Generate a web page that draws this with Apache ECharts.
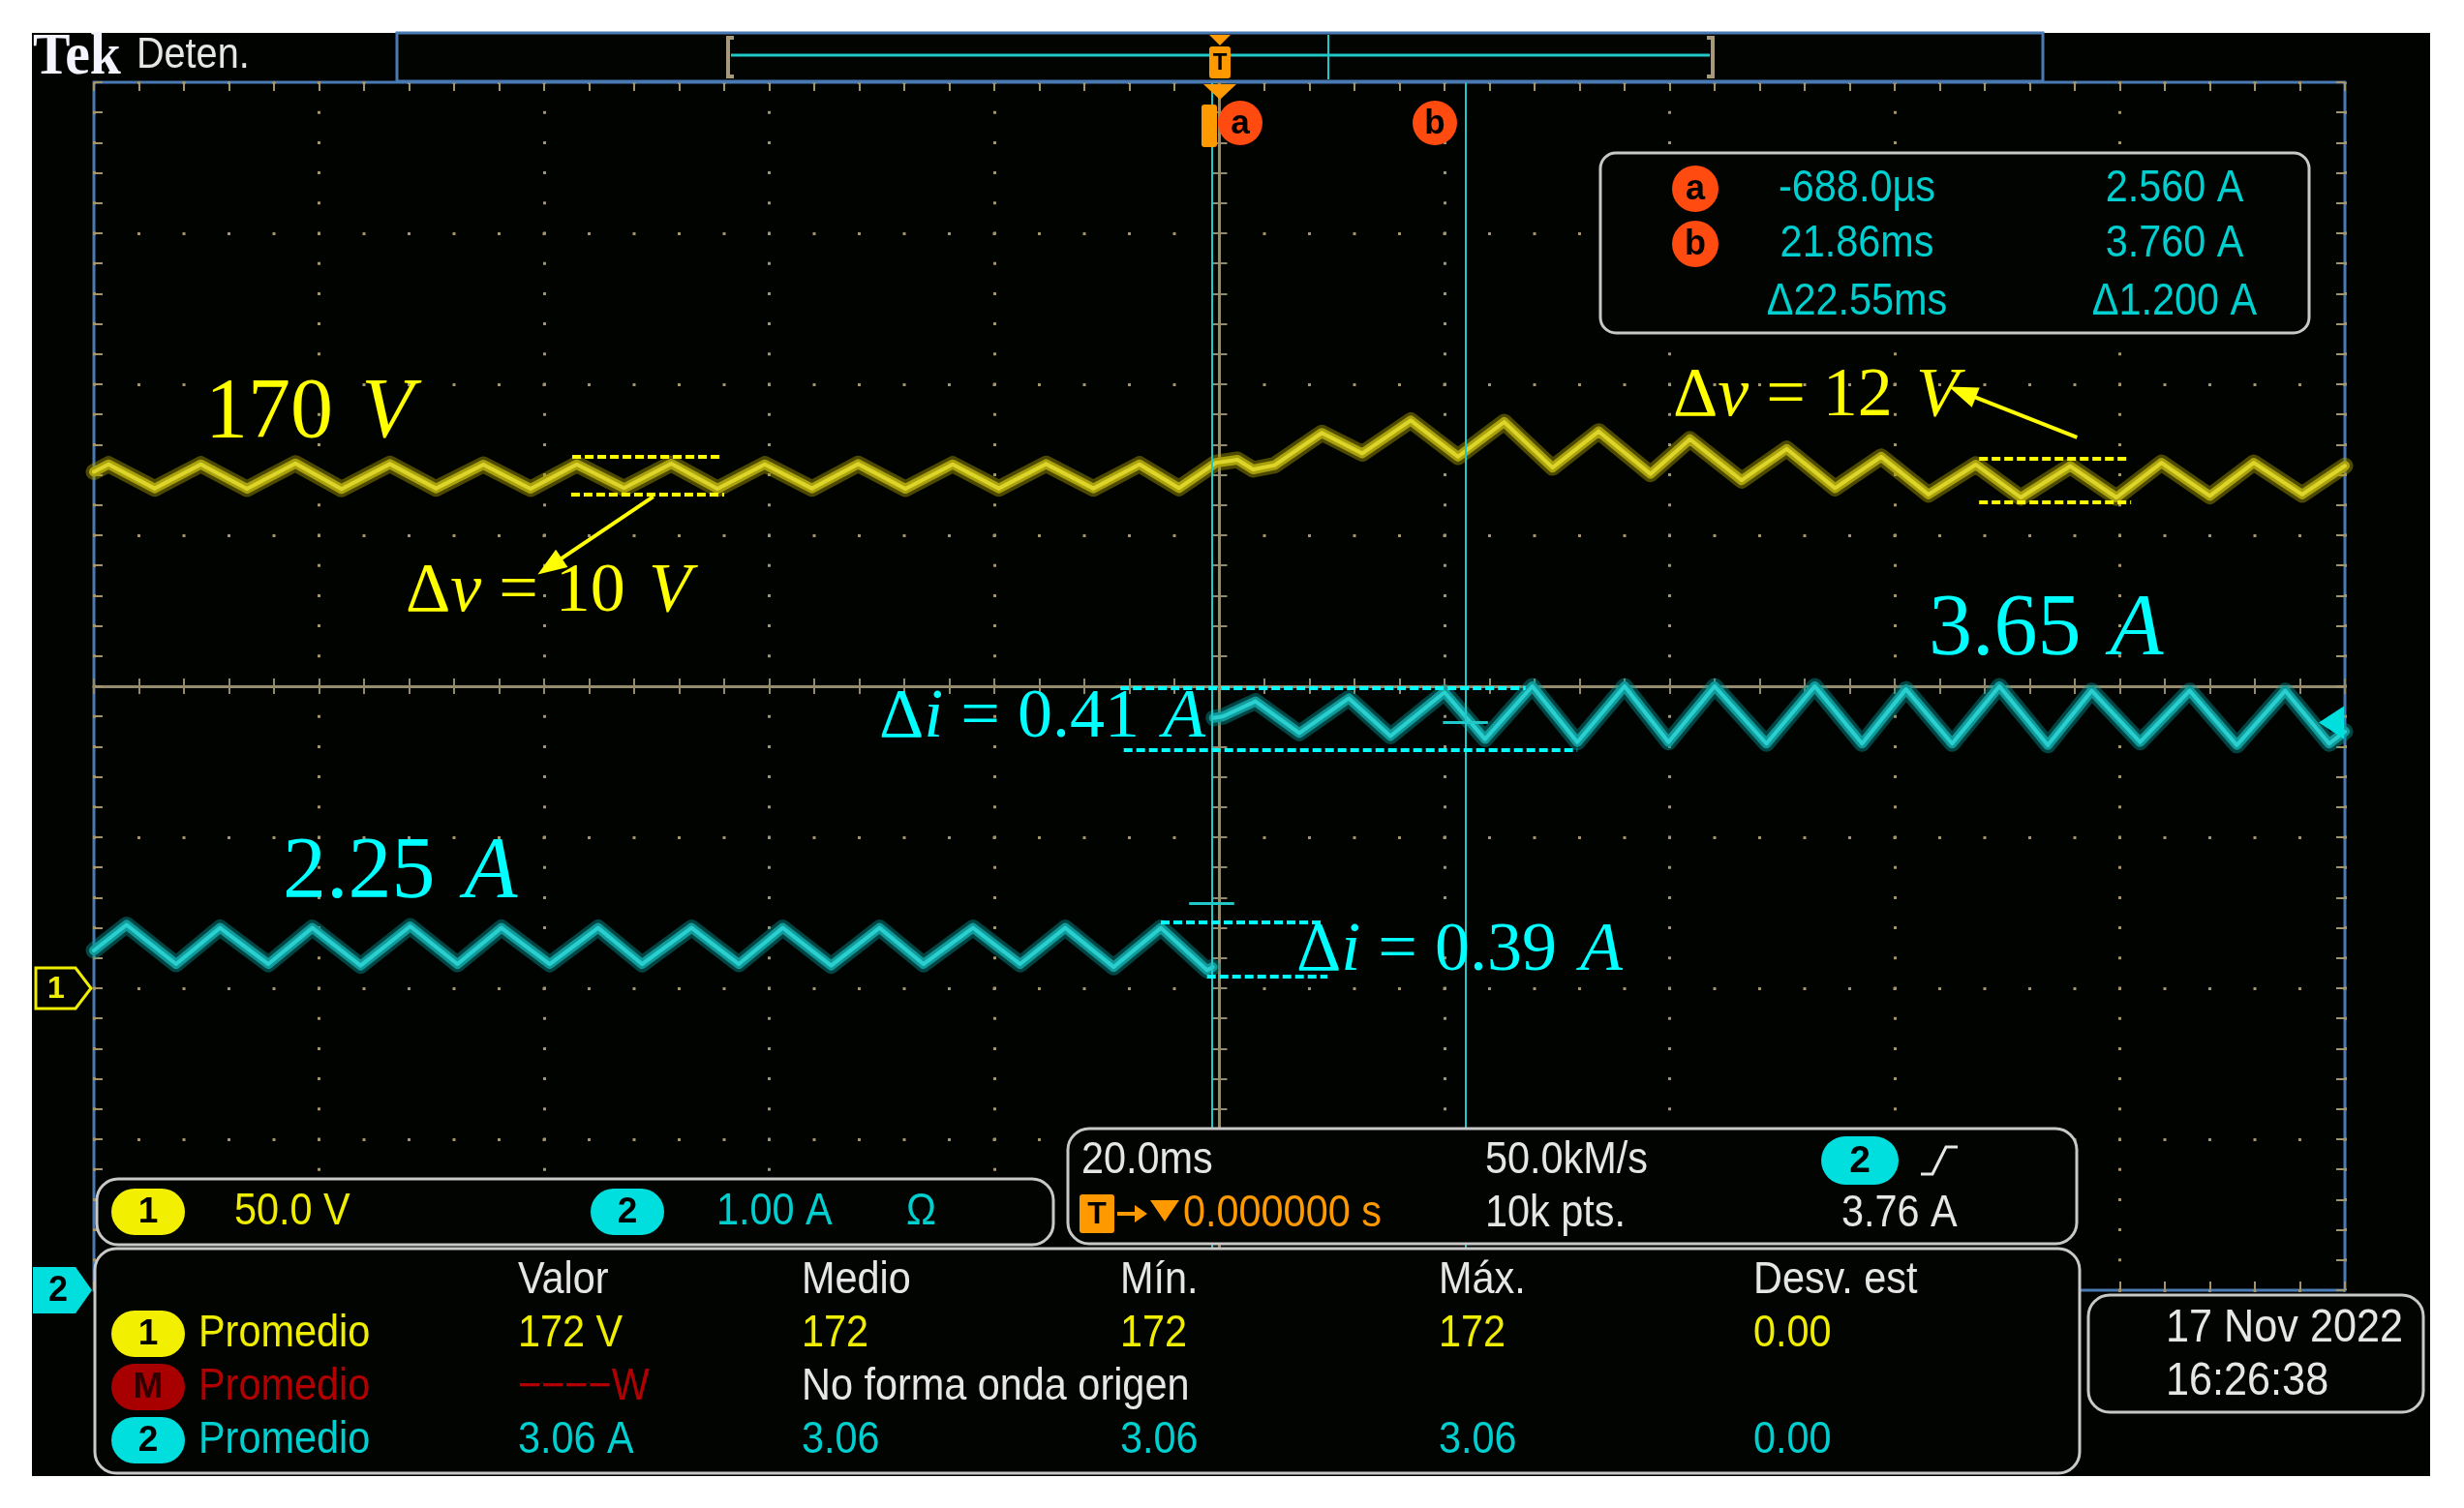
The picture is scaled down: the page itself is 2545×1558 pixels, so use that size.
<!DOCTYPE html>
<html>
<head>
<meta charset="utf-8">
<script src="https://cdn.jsdelivr.net/npm/echarts@6/dist/echarts.min.js"></script>
<style>
html,body{margin:0;padding:0;background:#ffffff;overflow:hidden;}
#bg{position:absolute;left:33px;top:34px;width:2477px;height:1491px;background:#010301;}
#chart{position:absolute;left:0;top:0;width:2545px;height:1558px;}
</style>
</head>
<body>
<div id="bg"></div>
<div id="chart"></div>
<script>
// ---------------- scope settings ----------------
const timePerDiv = 20;   // ms / div
const voltsPerDiv = 50;  // CH1  V / div
const ampsPerDiv = 1;    // CH2  A / div

// ---------------- CH1 (yellow, volts) ----------------
const ch1Time = [-100.0, -98.7, -94.6, -90.5, -86.4, -82.1, -78.0, -73.7, -69.6, -65.4, -61.2, -57.1, -52.9, -48.7, -44.6, -40.4, -36.2, -32.1, -27.9, -23.7, -19.6, -15.4, -11.2, -7.1, -3.6, -0.3, 1.6, 3.0, 4.9, 9.1, 12.7, 17.0, 21.2, 25.3, 29.6, 33.7, 38.3, 41.8, 46.4, 50.4, 54.7, 58.8, 63.0, 67.2, 71.2, 75.6, 79.7, 83.7, 88.0, 91.9, 96.2, 100.0];
const ch1Volts = [171.0, 173.5, 165.5, 173.5, 165.4, 173.8, 165.3, 173.6, 165.5, 173.4, 165.4, 173.5, 165.6, 173.7, 165.4, 173.5, 165.5, 173.6, 165.4, 173.5, 165.5, 173.6, 165.5, 173.5, 165.6, 174.0, 175.0, 171.8, 173.2, 183.9, 177.1, 188.0, 176.0, 187.5, 172.4, 184.4, 170.3, 181.8, 168.2, 178.6, 165.6, 176.0, 163.5, 173.4, 162.5, 172.9, 162.5, 174.0, 163.0, 174.0, 163.5, 173.0];

// ---------------- CH2 (cyan, amps) — null marks the (invisible) step edge ----------------
const ch2Time = [-100.0, -97.1, -92.7, -88.8, -84.5, -80.6, -76.3, -71.9, -67.7, -63.8, -59.5, -55.2, -51.3, -46.9, -42.7, -38.8, -34.5, -30.2, -26.3, -21.9, -17.7, -13.7, -9.4, -5.2, -1.1, -0.6, -0.55, -0.5, 0.3, 3.2, 7.1, 11.5, 15.2, 20.0, 23.6, 27.8, 31.8, 36.0, 39.9, 44.0, 48.6, 52.9, 57.1, 61.0, 65.1, 69.3, 73.6, 77.5, 81.8, 86.2, 90.4, 94.7, 98.6, 100.0];
const ch2Amps = [2.25, 2.42, 2.16, 2.40, 2.16, 2.40, 2.15, 2.41, 2.16, 2.40, 2.16, 2.40, 2.16, 2.40, 2.16, 2.40, 2.15, 2.40, 2.16, 2.40, 2.16, 2.40, 2.14, 2.40, 2.12, 2.14, null, 3.79, 3.80, 3.90, 3.69, 3.92, 3.67, 3.96, 3.65, 4.00, 3.63, 4.00, 3.63, 4.00, 3.62, 4.00, 3.62, 3.98, 3.62, 4.00, 3.61, 3.97, 3.63, 3.97, 3.61, 3.97, 3.62, 3.70];

// ---------------- cursors / trigger ----------------
const cursorTimes = [-0.688, 21.86];
const cursorAmps = [2.56, 3.76];
const triggerLevel = 3.76;

// ---------------- annotation guides (data units) ----------------
const yelGuideT = [[-57.5, -44.3], [-57.6, -44.0], [67.5, 80.6], [67.5, 81.0]];
const yelGuideV = [176.0, 163.5, 175.3, 160.9];
const yelArrowT = [[-50.3, -59.5], [76.2, 66.0]];
const yelArrowV = [[162.8, 139.7], [182.4, 197.4]];
const cyaGuideT = [[-8.8, 27.2], [-8.5, 31.8], [-5.2, 9.1], [-1.1, 9.6]];
const cyaGuideA = [3.99, 3.58, 2.44, 2.08];

// ---------------- texts ----------------
const readoutTimes = ['-688.0µs', '21.86ms', 'Δ22.55ms'];
const readoutAmps = ['2.560 A', '3.760 A', 'Δ1.200 A'];
const measHeaders = ['Valor', 'Medio', 'Mín.', 'Máx.', 'Desv. est'];
const measRow1 = ['172 V', '172', '172', '172', '0.00'];
const measRow3 = ['3.06 A', '3.06', '3.06', '3.06', '0.00'];

// ---------------- styles ----------------
const UI = "'Liberation Sans','DejaVu Sans',sans-serif";
const MATH = "'Liberation Serif','DejaVu Serif',serif";
const BLUE = '#4a7ab4', GRAT = '#a4946a', XH = '#948a6c', TAN = '#a8997a';
const YEL = '#f0ee00', CYA = '#00cfcf', WHT = '#e6e6e6', ORG = '#ff9900', CUR = '#ff4a10', DRED = '#b00000';
const AYEL = '#ffff00', ACYA = '#00ffff', PANEL = '#c8c8c8';

const chart = echarts.init(document.getElementById('chart'));

function T(s, x, y, size, fill, align, opts) {
  opts = opts || {};
  return {type: 'text', z: 110, x: x, y: y, scaleX: opts.sx || 0.9,
    style: {text: s, x: 0, y: 0, font: (opts.weight || 'normal') + ' ' + size + 'px ' + (opts.family || UI),
      fill: fill, align: align || 'left', verticalAlign: 'middle'}};
}
function panel(x, y, w, h, r) {
  return {type: 'rect', z: 100, shape: {x: x, y: y, width: w, height: h, r: r}, style: {fill: '#020402', stroke: PANEL, lineWidth: 3}};
}
function badge(cx, cy, w, h, fill, label, lc) {
  return [
    {type: 'rect', z: 110, shape: {x: cx - w / 2, y: cy - h / 2, width: w, height: h, r: h / 2}, style: {fill: fill}},
    {type: 'text', z: 111, x: cx, y: cy + 1, style: {text: label, x: 0, y: 0, font: 'bold ' + Math.round(h * 0.78) + 'px ' + UI, fill: lc, align: 'center', verticalAlign: 'middle'}}
  ];
}
function circ(cx, cy, r, label) {
  return [
    {type: 'circle', z: 110, shape: {cx: cx, cy: cy, r: r}, style: {fill: CUR}},
    {type: 'text', z: 111, x: cx, y: cy + 1, style: {text: label, x: 0, y: 0, font: 'bold ' + Math.round(r * 1.5) + 'px ' + UI, fill: '#000', align: 'center', verticalAlign: 'middle'}}
  ];
}
function mathText(parts, x, y, size, fill) {
  return {type: 'text', z: 90, x: x, y: y,
    style: {text: parts.map(p => '{' + p[0] + '|' + p[1] + '}').join(''), x: 0, y: 0, align: 'left', verticalAlign: 'middle',
      rich: {u: {font: size + 'px ' + MATH, fill: fill}, i: {font: 'italic ' + size + 'px ' + MATH, fill: fill}}}};
}

const G = [];
// header
G.push(T('Tek', 34, 60, 62, '#f4f4ff', 'left', {family: "'Liberation Serif',serif", weight: 'bold', sx: 0.93}));
G.push(T('Deten.', 141, 58, 44, WHT));
// record bar
G.push({type: 'rect', z: 100, shape: {x: 410, y: 34, width: 1700, height: 50}, style: {fill: '#020402', stroke: BLUE, lineWidth: 3}});
G.push({type: 'polyline', z: 101, shape: {points: [[758, 39], [752, 39], [752, 79], [758, 79]]}, style: {stroke: TAN, lineWidth: 4, fill: null}});
G.push({type: 'polyline', z: 101, shape: {points: [[1763, 39], [1769, 39], [1769, 79], [1763, 79]]}, style: {stroke: TAN, lineWidth: 4, fill: null}});
G.push({type: 'line', z: 101, shape: {x1: 755, y1: 57, x2: 1766, y2: 57}, style: {stroke: '#20c8c8', lineWidth: 3}});
G.push({type: 'line', z: 101, shape: {x1: 1372, y1: 36, x2: 1372, y2: 82}, style: {stroke: '#20c8c8', lineWidth: 2}});
G.push({type: 'polygon', z: 102, shape: {points: [[1249, 36], [1271, 36], [1260, 47]]}, style: {fill: ORG}});
G.push({type: 'rect', z: 102, shape: {x: 1249, y: 48, width: 22, height: 33, r: 3}, style: {fill: ORG}});
G.push({type: 'text', z: 103, x: 1260, y: 65, style: {text: 'T', x: 0, y: 0, font: 'bold 24px ' + UI, fill: '#000', align: 'center', verticalAlign: 'middle'}});
G.push({type: 'polygon', z: 102, shape: {points: [[1243, 87], [1277, 87], [1260, 103]]}, style: {fill: ORG}});
// cursor tags
G.push({type: 'rect', z: 102, shape: {x: 1241, y: 108, width: 16, height: 44, r: 3}, style: {fill: ORG}});
G.push(...circ(1281, 127, 23, 'a'));
G.push(...circ(1482, 127, 23, 'b'));
// cursor readout
G.push(panel(1653, 158, 732, 186, 16));
G.push(...circ(1751, 195, 24, 'a'));
G.push(...circ(1751, 252, 24, 'b'));
[195, 252, 312].forEach((y, i) => {
  G.push(T(readoutTimes[i], 1918, y, 46, CYA, 'center'));
  G.push(T(readoutAmps[i], 2246, y, 46, CYA, 'center'));
});
// math annotations
G.push(mathText([['u', '170\u2004'], ['i', 'V']], 212, 428, 88, AYEL));
G.push(mathText([['u', 'Δ'], ['i', 'v'], ['u', '\u2005=\u200510\u2004'], ['i', 'V']], 419, 612, 72, AYEL));
G.push(mathText([['u', 'Δ'], ['i', 'v'], ['u', '\u2005=\u200512\u2004'], ['i', 'V']], 1728, 410, 72, AYEL));
G.push(mathText([['u', '3.65\u2004'], ['i', 'A']], 1992, 652, 90, ACYA));
G.push(mathText([['u', '2.25\u2004'], ['i', 'A']], 292, 903, 90, ACYA));
G.push(mathText([['u', 'Δ'], ['i', 'i'], ['u', '\u2005=\u20050.41\u2004'], ['i', 'A']], 908, 742, 72, ACYA));
G.push(mathText([['u', 'Δ'], ['i', 'i'], ['u', '\u2005=\u20050.39\u2004'], ['i', 'A']], 1339, 983, 72, ACYA));
// ground markers
G.push({type: 'polygon', z: 100, shape: {points: [[37, 1000], [78, 1000], [94, 1021], [78, 1042], [37, 1042]]}, style: {fill: '#020402', stroke: YEL, lineWidth: 3}});
G.push({type: 'text', z: 101, x: 58, y: 1022, style: {text: '1', x: 0, y: 0, font: 'bold 32px ' + UI, fill: YEL, align: 'center', verticalAlign: 'middle'}});
G.push({type: 'polygon', z: 100, shape: {points: [[34, 1309], [78, 1309], [95, 1333], [78, 1357], [34, 1357]]}, style: {fill: '#00dede'}});
G.push({type: 'text', z: 101, x: 60, y: 1334, style: {text: '2', x: 0, y: 0, font: 'bold 36px ' + UI, fill: '#000', align: 'center', verticalAlign: 'middle'}});
// channel panel
G.push(panel(100, 1218, 988, 68, 22));
G.push(...badge(153, 1252, 76, 48, '#f2f000', '1', '#000'));
G.push(T('50.0 V', 242, 1252, 46, YEL));
G.push(...badge(648, 1252, 76, 48, '#00dede', '2', '#000'));
G.push(T('1.00 A', 740, 1252, 46, CYA));
G.push(T('Ω', 936, 1252, 46, CYA));
// timebase panel
G.push(panel(1103, 1166, 1042, 119, 22));
G.push(T('20.0ms', 1117, 1199, 46, WHT));
G.push(T('50.0kM/s', 1534, 1199, 46, WHT));
G.push(...badge(1921, 1199, 80, 50, '#00dede', '2', '#000'));
G.push({type: 'polyline', z: 110, shape: {points: [[1984, 1213], [1996, 1213], [2010, 1185], [2022, 1185]]}, style: {stroke: WHT, lineWidth: 3, fill: null}});
G.push({type: 'rect', z: 110, shape: {x: 1115, y: 1234, width: 36, height: 40, r: 3}, style: {fill: ORG}});
G.push({type: 'text', z: 111, x: 1133, y: 1255, style: {text: 'T', x: 0, y: 0, font: 'bold 32px ' + UI, fill: '#000', align: 'center', verticalAlign: 'middle'}});
G.push({type: 'line', z: 110, shape: {x1: 1154, y1: 1254, x2: 1178, y2: 1254}, style: {stroke: ORG, lineWidth: 4}});
G.push({type: 'polygon', z: 110, shape: {points: [[1172, 1245], [1185, 1254], [1172, 1263]]}, style: {fill: ORG}});
G.push({type: 'polygon', z: 110, shape: {points: [[1188, 1240], [1218, 1240], [1203, 1262]]}, style: {fill: ORG}});
G.push(T('0.000000 s', 1222, 1254, 46, ORG));
G.push(T('10k pts.', 1534, 1254, 46, WHT));
G.push(T('3.76 A', 1902, 1254, 46, WHT));
// measurement panel
G.push(panel(98, 1290, 2050, 232, 22));
const colX = [535, 828, 1157, 1486, 1811];
measHeaders.forEach((s, i) => G.push(T(s, colX[i], 1323, 46, WHT)));
G.push(...badge(153, 1378, 76, 48, '#f2f000', '1', '#000'));
G.push(T('Promedio', 205, 1378, 46, YEL));
measRow1.forEach((s, i) => G.push(T(s, colX[i], 1378, 46, YEL)));
G.push(...badge(153, 1433, 76, 48, '#a80000', 'M', '#300000'));
G.push(T('Promedio', 205, 1433, 46, DRED));
G.push(T('−−−−W', 535, 1433, 46, DRED));
G.push(T('No forma onda origen', 828, 1433, 46, WHT));
G.push(...badge(153, 1488, 76, 48, '#00dede', '2', '#000'));
G.push(T('Promedio', 205, 1488, 46, CYA));
measRow3.forEach((s, i) => G.push(T(s, colX[i], 1488, 46, CYA)));
// date panel
G.push(panel(2157, 1338, 346, 121, 22));
G.push(T('17 Nov 2022', 2237, 1373, 48, WHT));
G.push(T('16:26:38', 2237, 1428, 48, WHT));

// ---------------- axes ----------------
const tickStyle = {color: GRAT, width: 2};
const xRange = {type: 'value', min: -5 * timePerDiv, max: 5 * timePerDiv, interval: timePerDiv, axisLabel: {show: false}};
const yRange = {type: 'value', min: -4, max: 4, interval: 1, axisLabel: {show: false}};
const xAxis = [
  Object.assign({}, xRange, {position: 'bottom', axisLine: {show: false, onZero: false},
    axisTick: {show: true, inside: true, length: 9, lineStyle: tickStyle},
    minorTick: {show: true, splitNumber: 5, length: 9, lineStyle: tickStyle},
    splitLine: {show: true, lineStyle: {color: GRAT, width: 3, type: [3, 28.2], dashOffset: 1.5}}}),
  Object.assign({}, xRange, {position: 'top', axisLine: {show: false, onZero: false},
    axisTick: {show: true, inside: true, length: 9, lineStyle: tickStyle},
    minorTick: {show: true, splitNumber: 5, length: 9, lineStyle: tickStyle}, splitLine: {show: false}}),
  Object.assign({}, xRange, {position: 'bottom', axisLine: {show: true, onZero: true, onZeroAxisIndex: 0, lineStyle: {color: XH, width: 3}},
    axisTick: {show: true, inside: false, length: 8, lineStyle: {color: XH, width: 2}},
    minorTick: {show: true, splitNumber: 5, length: 8, lineStyle: {color: XH, width: 2}}, splitLine: {show: false}}),
  Object.assign({}, xRange, {position: 'top', axisLine: {show: true, onZero: true, onZeroAxisIndex: 0, lineStyle: {color: XH, width: 3}},
    axisTick: {show: true, inside: false, length: 8, lineStyle: {color: XH, width: 2}},
    minorTick: {show: true, splitNumber: 5, length: 8, lineStyle: {color: XH, width: 2}}, splitLine: {show: false}})
];
const yAxis = [
  Object.assign({}, yRange, {position: 'left', axisLine: {show: false, onZero: false},
    axisTick: {show: true, inside: true, length: 9, lineStyle: tickStyle},
    minorTick: {show: true, splitNumber: 5, length: 9, lineStyle: tickStyle},
    splitLine: {show: true, lineStyle: {color: GRAT, width: 3, type: [3, 43.5], dashOffset: 1.5}}}),
  Object.assign({}, yRange, {position: 'right', axisLine: {show: false, onZero: false},
    axisTick: {show: true, inside: true, length: 9, lineStyle: tickStyle},
    minorTick: {show: true, splitNumber: 5, length: 9, lineStyle: tickStyle}, splitLine: {show: false}}),
  {type: 'value', show: false, min: -2 * voltsPerDiv, max: 6 * voltsPerDiv, axisLine: {onZero: false}},
  {type: 'value', show: false, min: 0, max: 8 * ampsPerDiv, axisLine: {onZero: false}},
  Object.assign({}, yRange, {position: 'left', axisLine: {show: true, onZero: true, onZeroAxisIndex: 0, lineStyle: {color: XH, width: 3}},
    axisTick: {show: true, inside: false, length: 8, lineStyle: {color: XH, width: 2}},
    minorTick: {show: true, splitNumber: 5, length: 8, lineStyle: {color: XH, width: 2}}, splitLine: {show: false}}),
  Object.assign({}, yRange, {position: 'right', axisLine: {show: true, onZero: true, onZeroAxisIndex: 0, lineStyle: {color: XH, width: 3}},
    axisTick: {show: true, inside: false, length: 8, lineStyle: {color: XH, width: 2}},
    minorTick: {show: true, splitNumber: 5, length: 8, lineStyle: {color: XH, width: 2}}, splitLine: {show: false}})
];

// ---------------- marks ----------------
const dashY = {color: AYEL, width: 4, type: [9, 4]};
const dashC = {color: ACYA, width: 4, type: [9, 4]};
const yelMarks = [];
yelGuideT.forEach((t, i) => yelMarks.push([{coord: [t[0], yelGuideV[i]], lineStyle: dashY}, {coord: [t[1], yelGuideV[i]]}]));
yelArrowT.forEach((t, i) => yelMarks.push([
  {coord: [t[0], yelArrowV[i][0]], lineStyle: {color: AYEL, width: 4, type: 'solid'}, symbol: 'none'},
  {coord: [t[1], yelArrowV[i][1]], symbol: 'triangle', symbolSize: [22, 30]}]));
const cyaMarks = [];
cyaGuideT.forEach((t, i) => cyaMarks.push([{coord: [t[0], cyaGuideA[i]], lineStyle: dashC}, {coord: [t[1], cyaGuideA[i]]}]));
const cursorMarks = cursorTimes.map(t => ({xAxis: t}));
cursorTimes.forEach((t, i) => cursorMarks.push([{coord: [t - 2, cursorAmps[i]], lineStyle: {color: '#20c8c8', width: 3, type: 'solid'}}, {coord: [t + 2, cursorAmps[i]]}]));

const ch1Data = ch1Time.map((t, i) => [t, ch1Volts[i]]);
const ch2Data = ch2Time.map((t, i) => [t, ch2Amps[i] === null ? '-' : ch2Amps[i]]);

function trace(name, yIdx, data, color, width, z, extra) {
  return Object.assign({type: 'line', name: name, xAxisIndex: 0, yAxisIndex: yIdx, data: data, showSymbol: false, symbol: 'none',
    silent: true, z: z, connectNulls: false, lineStyle: {color: color, width: width, join: 'round', cap: 'round'}}, extra || {});
}

chart.setOption({
  animation: false,
  backgroundColor: 'transparent',
  grid: {left: 97, top: 85, width: 2325, height: 1248, show: true, borderColor: BLUE, borderWidth: 3, backgroundColor: 'transparent'},
  xAxis: xAxis,
  yAxis: yAxis,
  series: [
    {type: 'line', name: 'CH2 cursors', xAxisIndex: 0, yAxisIndex: 3, data: [], z: 2, silent: true,
      markLine: {silent: true, symbol: ['none', 'none'], label: {show: false}, lineStyle: {color: '#20c8c8', width: 2, type: 'solid'}, data: cursorMarks}},
    trace('CH1 fuzz', 2, ch1Data, 'rgba(170,160,0,0.45)', 17, 3),
    trace('CH1 body', 2, ch1Data, '#aaa20c', 10, 3),
    trace('CH1', 2, ch1Data, '#ddd52a', 4, 4,
      {markLine: {silent: true, symbol: ['none', 'none'], label: {show: false}, data: yelMarks}}),
    trace('CH2 fuzz', 3, ch2Data, 'rgba(0,150,150,0.45)', 17, 3),
    trace('CH2 body', 3, ch2Data, '#119a9a', 10, 3),
    trace('CH2', 3, ch2Data, '#2ad0d0', 4, 4,
      {markLine: {silent: true, symbol: ['none', 'none'], label: {show: false}, data: cyaMarks},
       markPoint: {silent: true, label: {show: false}, data: [{coord: [5 * timePerDiv, triggerLevel], symbol: 'path://M0,10 L18,0 L18,20 Z', symbolSize: [26, 34], symbolOffset: [-14, 0], itemStyle: {color: '#00dede'}}]}})
  ],
  graphic: {elements: G}
});
</script>
</body>
</html>
